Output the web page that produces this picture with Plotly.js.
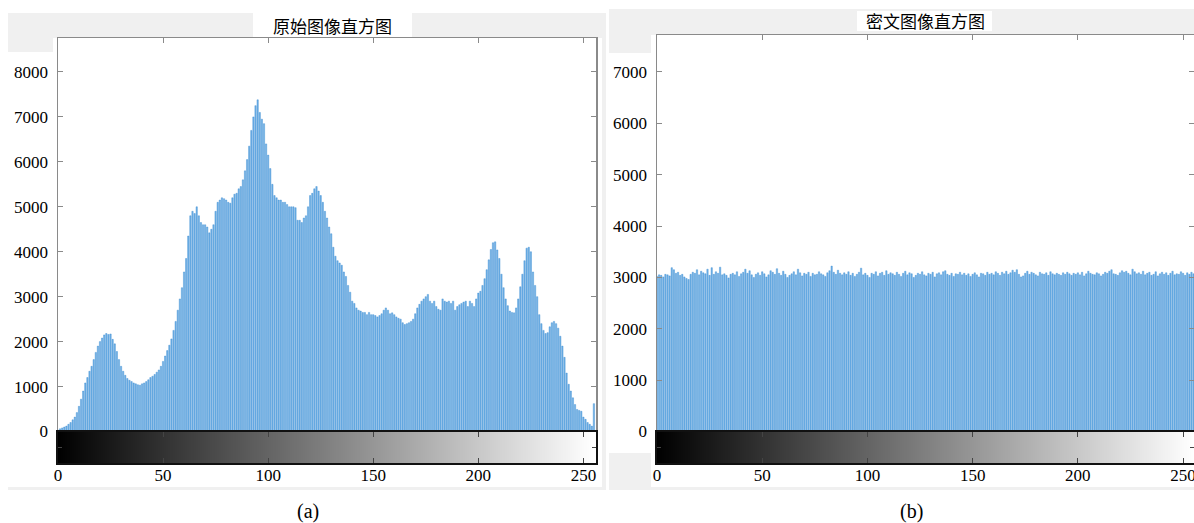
<!DOCTYPE html>
<html><head><meta charset="utf-8">
<script src="https://cdn.plot.ly/plotly-3.0.1.min.js"></script>
<style>html,body{margin:0;padding:0;background:#fff}#chart{width:1194px;height:523px}</style>
</head><body><div id="chart"></div>
<script>
// gray levels (histogram bins)
const bins = Array.from({length: 256}, (_, i) => i);
const xTickVals = [0, 50, 100, 150, 200, 250];
const yTicksA = [0, 1000, 2000, 3000, 4000, 5000, 6000, 7000, 8000];
const yTicksB = [0, 1000, 2000, 3000, 4000, 5000, 6000, 7000];
const titleA = '原始图像直方图';
const titleB = '密文图像直方图';
const captionA = '(a)';
const captionB = '(b)';

// original image histogram counts (bins 0..255)
const countsOriginal = [
  30, 60, 80, 100, 120, 160, 200, 260, 320, 420, 560, 720, 900, 1080, 1200, 1340,
  1450, 1600, 1760, 1900, 2000, 2080, 2150, 2180, 2160, 2170, 2050, 1950, 1780, 1600, 1450, 1340,
  1250, 1180, 1140, 1110, 1080, 1060, 1040, 1030, 1060, 1080, 1110, 1150, 1200, 1230, 1270, 1320,
  1370, 1450, 1560, 1680, 1800, 1920, 2060, 2250, 2450, 2700, 2950, 3200, 3550, 3850, 4350, 4800,
  4900, 4850, 5000, 4800, 4650, 4600, 4600, 4550, 4420, 4500, 4600, 4900, 5100, 5150, 5200, 5180,
  5150, 5100, 5080, 5200, 5280, 5300, 5400, 5450, 5600, 5800, 6050, 6350, 6700, 7000, 7250, 7380,
  7100, 6950, 6850, 6400, 6150, 5850, 5500, 5250, 5200, 5150, 5150, 5100, 5100, 5050, 5000, 5000,
  5000, 4980, 4700, 4700, 4650, 4750, 4800, 5000, 5250, 5300, 5400, 5450, 5350, 5250, 5100, 4900,
  4750, 4550, 4400, 4100, 3900, 3800, 3750, 3700, 3550, 3450, 3250, 3100, 2900, 2850, 2750, 2700,
  2680, 2650, 2650, 2600, 2650, 2600, 2600, 2580, 2550, 2580, 2620, 2700, 2750, 2700, 2620, 2640,
  2600, 2550, 2520, 2500, 2420, 2380, 2400, 2420, 2450, 2500, 2620, 2750, 2830, 2900, 2950, 3000,
  3050, 2900, 2850, 2900, 2780, 2720, 2700, 2950, 2900, 2880, 2900, 2850, 2900, 2700, 2780, 2820,
  2850, 2880, 2900, 2780, 2900, 2850, 2780, 2950, 3080, 3120, 3250, 3400, 3600, 3820, 4050, 4200,
  4220, 4040, 3850, 3500, 3200, 2950, 2800, 2680, 2650, 2640, 2750, 2950, 3220, 3500, 3800, 4080,
  4100, 4000, 3550, 3250, 3000, 2600, 2400, 2250, 2180, 2200, 2330, 2420, 2450, 2400, 2300, 2120,
  1900, 1650, 1300, 1050, 900, 750, 600, 490, 470, 450, 320, 270, 200, 160, 120, 620
];

// cipher image histogram counts (bins 0..255)
const countsCipher = [
  3020, 3050, 3040, 3010, 3060, 3050, 3030, 3190, 3150, 3080, 3100, 3040, 3060, 3010, 2980, 2960,
  3060, 3100, 3080, 3150, 3050, 3120, 3090, 3070, 3160, 3040, 3190, 3060, 3110, 3080, 3200, 3050,
  3070, 3040, 2990, 3060, 3080, 3050, 3110, 3020, 3070, 3100, 3160, 3080, 3130, 3050, 3000, 3060,
  3090, 3040, 3110, 3070, 3010, 3050, 3130, 3100, 3060, 3170, 3080, 3040, 3120, 3060, 3000, 3040,
  3070, 3110, 3050, 3160, 3090, 3030, 3080, 3060, 3100, 3020, 3080, 3050, 3060, 3110, 3070, 3050,
  3020, 3090, 3130, 3220, 3100, 3060, 3140, 3080, 3050, 3090, 3060, 3110, 3040, 3080, 3020, 3060,
  3100, 3180, 3050, 3080, 3040, 3000, 3080, 3060, 3110, 3030, 3080, 3100, 3040, 3130, 3060, 3090,
  3070, 3040, 3100, 3060, 3020, 3080, 3120, 3050, 3090, 3070, 3000, 3040, 3080, 3060, 3110, 3050,
  3030, 3080, 3060, 3100, 3010, 3070, 3090, 3050, 3110, 3130, 3060, 3040, 3080, 3020, 3070, 3060,
  3100, 3050, 3080, 3040, 3070, 3020, 3060, 3090, 3050, 3010, 3080, 3070, 3040, 3100, 3060, 3080,
  3050, 3110, 3080, 3040, 3100, 3070, 3120, 3060, 3090, 3140, 3100, 3150, 3060, 3010, 3030, 3080,
  3120, 3060, 3100, 3080, 3050, 3030, 3100, 3070, 3060, 3090, 3040, 3110, 3070, 3050, 3080, 3060,
  3040, 3090, 3060, 3100, 3070, 3040, 3080, 3060, 3090, 3050, 3100, 3030, 3070, 3120, 3080, 3060,
  3050, 3090, 3070, 3030, 3060, 3100, 3080, 3120, 3150, 3070, 3060, 3040, 3090, 3130, 3100, 3120,
  3080, 3050, 3160, 3110, 3070, 3090, 3060, 3120, 3050, 3080, 3100, 3040, 3060, 3110, 3030, 3070,
  3100, 3060, 3090, 3040, 3080, 3120, 3050, 3070, 3060, 3110, 3080, 3040, 3090, 3060, 3100, 3070
];

const W = 1194, H = 523;
const px = x => x / W;
const py = y => 1 - y / H;

const barFace = '#72b2e6', barEdge = '#3b8bd2';
const frameGray = '#8a8a8a';
const serif = 'Liberation Serif, Times New Roman, serif';
const cjk = 'Noto Sans CJK SC, sans-serif';

function bars(y, xa, ya) {
  return {type: 'bar', x: bins, y: y, xaxis: xa, yaxis: ya, width: 0.65,
    marker: {color: barFace, line: {color: barEdge, width: 0.4}}, hoverinfo: 'skip'};
}
function ramp(xa, ya) {
  return {type: 'heatmap', x: bins, y: [0], z: [bins], xaxis: xa, yaxis: ya,
    colorscale: [[0, '#000000'], [1, '#ffffff']], zmin: 0, zmax: 255,
    showscale: false, hoverinfo: 'skip'};
}

const data = [
  bars(countsOriginal, 'x', 'y'),
  ramp('x2', 'y2'),
  bars(countsCipher, 'x3', 'y3'),
  ramp('x4', 'y4')
];

function histX(dom, rng, anchor) {
  return {domain: dom, range: rng, anchor: anchor, showline: true, linecolor: frameGray, linewidth: 1.5,
    side: 'top', ticks: 'inside', ticklen: 5, tickcolor: frameGray, tickvals: xTickVals,
    showticklabels: false, showgrid: false, zeroline: false, fixedrange: true};
}
function histY(dom, rng, ticks, anchor) {
  return {domain: dom, range: rng, anchor: anchor, showline: true, mirror: 'ticks', linecolor: frameGray, linewidth: 1.5,
    ticks: 'inside', ticklen: 5, tickcolor: frameGray, tickvals: ticks,
    tickfont: {family: serif, size: 17, color: '#000'}, ticklabelstandoff: 5,
    showgrid: false, zeroline: false, fixedrange: true};
}
function cbX(dom, rng, anchor) {
  return {domain: dom, range: rng, anchor: anchor, showline: true, mirror: 'ticks', linecolor: '#111', linewidth: 2,
    ticks: 'inside', ticklen: 5, tickcolor: '#444', tickvals: xTickVals, ticklabeloverflow: 'allow',
    tickfont: {family: serif, size: 17, color: '#000'}, ticklabelstandoff: -4,
    showgrid: false, zeroline: false, fixedrange: true};
}
function cbY(dom, anchor) {
  return {domain: dom, range: [-0.5, 0.5], anchor: anchor, showline: true, mirror: 'ticks', linecolor: '#111', linewidth: 2,
    ticks: 'inside', ticklen: 4, tickcolor: '#444', tickvals: [0], showticklabels: false,
    showgrid: false, zeroline: false, fixedrange: true};
}

function rect(x0, y0, x1, y1, color) {
  return {type: 'rect', xref: 'paper', yref: 'paper', layer: 'below',
    x0: px(x0), x1: px(x1), y0: py(y1), y1: py(y0), fillcolor: color, line: {width: 0}};
}
const bg = '#f0f0f0';

const layout = {
  width: W, height: H, margin: {l: 0, r: 0, t: 0, b: 0},
  paper_bgcolor: '#ffffff', plot_bgcolor: 'rgba(0,0,0,0)', showlegend: false,
  bargap: 0,
  xaxis: histX([px(58), px(596)], [0, 256], 'y'),
  yaxis: histY([py(431.5), py(38)], [0, 8756], yTicksA, 'x'),
  xaxis2: cbX([px(58), px(596)], [0, 256], 'y2'),
  yaxis2: cbY([py(463), py(431.5)], 'x2'),
  xaxis3: histX([px(657), 1], [0, 255.2], 'y3'),
  yaxis3: histY([py(431.5), py(35)], [0, 7720], yTicksB, 'x3'),
  xaxis4: cbX([px(657), 1], [0, 255.2], 'y4'),
  yaxis4: cbY([py(463), py(431.5)], 'x4'),
  shapes: [
    rect(8, 13, 606, 490, bg),
    rect(8, 52, 53, 487, '#ffffff'),
    rect(53, 38, 602, 487, '#ffffff'),
    rect(253, 13, 412, 37, '#ffffff'),
    rect(609, 9, 1194, 490, bg),
    rect(609, 53, 651, 453, '#ffffff'),
    rect(651, 35, 1194, 487, '#ffffff'),
    rect(857, 11, 992, 31, '#ffffff')
  ],
  annotations: [
    {text: titleA, xref: 'paper', yref: 'paper', x: px(332), y: py(25), showarrow: false,
     xanchor: 'center', yanchor: 'middle', font: {family: cjk, size: 17, color: '#000'}},
    {text: titleB, xref: 'paper', yref: 'paper', x: px(925), y: py(21), showarrow: false,
     xanchor: 'center', yanchor: 'middle', font: {family: cjk, size: 17, color: '#000'}},
    {text: captionA, xref: 'paper', yref: 'paper', x: px(308), y: py(511), showarrow: false,
     xanchor: 'center', yanchor: 'middle', font: {family: serif, size: 20, color: '#000'}},
    {text: captionB, xref: 'paper', yref: 'paper', x: px(911), y: py(511), showarrow: false,
     xanchor: 'center', yanchor: 'middle', font: {family: serif, size: 20, color: '#000'}}
  ]
};

Plotly.newPlot('chart', data, layout, {displayModeBar: false, staticPlot: true});
</script></body></html>
